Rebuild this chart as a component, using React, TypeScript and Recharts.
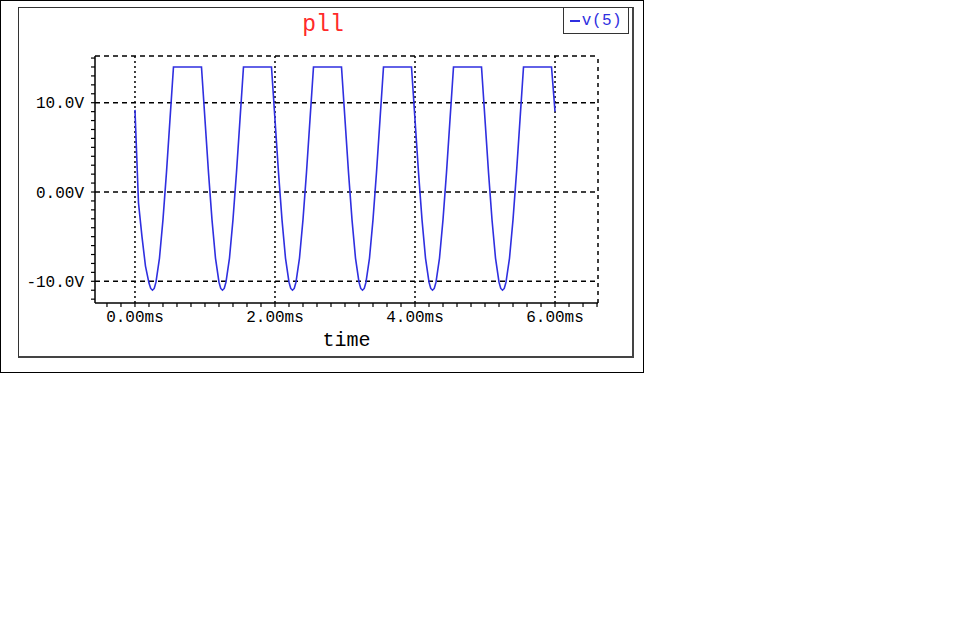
import { LineChart, Line, XAxis, YAxis, ReferenceLine, Legend } from "recharts";

// PSpice-style transient plot: v(5) of "pll"
const timeMs = [
  0, 0.05, 0.1, 0.15, 0.2, 0.225, 0.25, 0.275, 0.3, 0.35, 0.4, 0.45, 0.5, 0.55, 0.95,
  1.0, 1.05, 1.1, 1.15, 1.2, 1.225, 1.25, 1.275, 1.3, 1.35, 1.4, 1.45, 1.5, 1.55, 1.95,
  2.0, 2.05, 2.1, 2.15, 2.2, 2.225, 2.25, 2.275, 2.3, 2.35, 2.4, 2.45, 2.5, 2.55, 2.95,
  3.0, 3.05, 3.1, 3.15, 3.2, 3.225, 3.25, 3.275, 3.3, 3.35, 3.4, 3.45, 3.5, 3.55, 3.95,
  4.0, 4.05, 4.1, 4.15, 4.2, 4.225, 4.25, 4.275, 4.3, 4.35, 4.4, 4.45, 4.5, 4.55, 4.95,
  5.0, 5.05, 5.1, 5.15, 5.2, 5.225, 5.25, 5.275, 5.3, 5.35, 5.4, 5.45, 5.5, 5.55, 5.95,
  6.0,
];
const v5 = [
  9.2, -1.2, -5.0, -8.3, -10.2, -10.8, -11.0, -10.8, -10.1, -7.4, -3.1, 2.2, 8.1, 14.0, 14.0,
  8.1, 2.2, -3.1, -7.4, -10.1, -10.8, -11.0, -10.8, -10.1, -7.4, -3.1, 2.2, 8.1, 14.0, 14.0,
  8.1, 2.2, -3.1, -7.4, -10.1, -10.8, -11.0, -10.8, -10.1, -7.4, -3.1, 2.2, 8.1, 14.0, 14.0,
  8.1, 2.2, -3.1, -7.4, -10.1, -10.8, -11.0, -10.8, -10.1, -7.4, -3.1, 2.2, 8.1, 14.0, 14.0,
  8.1, 2.2, -3.1, -7.4, -10.1, -10.8, -11.0, -10.8, -10.1, -7.4, -3.1, 2.2, 8.1, 14.0, 14.0,
  8.1, 2.2, -3.1, -7.4, -10.1, -10.8, -11.0, -10.8, -10.1, -7.4, -3.1, 2.2, 8.1, 14.0, 14.0,
  9.0,
];

const xTicks = [
  -0.4, -0.2, 0, 0.2, 0.4, 0.6, 0.8, 1, 1.2, 1.4, 1.6, 1.8, 2, 2.2, 2.4, 2.6, 2.8,
  3, 3.2, 3.4, 3.6, 3.8, 4, 4.2, 4.4, 4.6, 4.8, 5, 5.2, 5.4, 5.6, 5.8, 6, 6.2, 6.4, 6.6,
];
const xLabelled = [0, 2, 4, 6];
const yTicks = [-12, -11, -10, -9, -8, -7, -6, -5, -4, -3, -2, -1, 0, 1, 2, 3, 4, 5, 6, 7, 8, 9, 10, 11, 12, 13, 14, 15];
const yLabelled = [-10, 0, 10];
const yLabelText: Record<string, string> = { "-10": "-10.0V", "0": "0.00V", "10": "10.0V" };

const X_DOMAIN: [number, number] = [-0.571, 6.614];
const Y_DOMAIN: [number, number] = [-12.43, 15.23];

const data = timeMs.map((t, i) => ({ t, v: v5[i] }));

const FONT = "'Liberation Mono', 'Courier New', monospace";
const BLUE = "#2f2fe0";

function XTick({ x, y, payload }: any) {
  if (!xLabelled.some((v) => Math.abs(v - payload.value) < 1e-6)) return <g />;
  return (
    <text x={x} y={y} dy="0.71em" textAnchor="middle" fontFamily={FONT} fontSize={16} fill="#000">
      {payload.value.toFixed(2)}ms
    </text>
  );
}

function YTick({ x, y, payload }: any) {
  if (!yLabelled.includes(payload.value)) return <g />;
  return (
    <text x={x} y={y} dy="0.35em" textAnchor="end" fontFamily={FONT} fontSize={16} fill="#000">
      {yLabelText[String(payload.value)]}
    </text>
  );
}

function LegendBox() {
  return (
    <div
      style={{
        border: "1px solid #333",
        background: "#fff",
        width: 64,
        height: 25,
        display: "flex",
        alignItems: "center",
        justifyContent: "center",
        fontFamily: FONT,
        fontSize: 16,
        color: BLUE,
      }}
    >
      <svg width={11} height={10} style={{ marginRight: 1 }}>
        <line x1={0} y1={5} x2={10} y2={5} stroke={BLUE} strokeWidth={2} />
      </svg>
      <span style={{ letterSpacing: 0.5 }}>v(5)</span>
    </div>
  );
}

export default function App() {
  return (
    <div style={{ position: "absolute", left: 0, top: 0, width: 644, height: 373, background: "#fff" }}>
      <LineChart
        width={643}
        height={372}
        data={data}
        margin={{ top: 56, right: 45, left: 35, bottom: 19 }}
      >
        <XAxis
          dataKey="t"
          type="number"
          domain={X_DOMAIN}
          allowDataOverflow
          ticks={xTicks}
          interval={0}
          tick={<XTick />}
          tickSize={4}
          tickMargin={4}
          height={50}
          axisLine={{ stroke: "#000", strokeWidth: 1.5 }}
          tickLine={{ stroke: "#000", strokeWidth: 1.2 }}
          label={{ value: "time", position: "insideBottom", offset: 7, fontFamily: FONT, fontSize: 20, fill: "#000" }}
        />
        <YAxis
          type="number"
          domain={Y_DOMAIN}
          allowDataOverflow
          ticks={yTicks}
          interval={0}
          tick={<YTick />}
          tickSize={4}
          tickMargin={7}
          width={60}
          axisLine={{ stroke: "#000", strokeWidth: 1.5 }}
          tickLine={{ stroke: "#000", strokeWidth: 1.2 }}
        />
        {yLabelled.map((v) => (
          <ReferenceLine key={"h" + v} y={v} stroke="#000" strokeWidth={1.5} strokeDasharray="5 4" />
        ))}
        <ReferenceLine y={Y_DOMAIN[1]} stroke="#000" strokeWidth={1.5} strokeDasharray="5 4" />
        {xLabelled.map((v) => (
          <ReferenceLine key={"v" + v} x={v} stroke="#000" strokeWidth={1.5} strokeDasharray="2 3" />
        ))}
        <ReferenceLine x={X_DOMAIN[1]} stroke="#000" strokeWidth={1.5} strokeDasharray="4 4" />
        <Legend
          layout="horizontal"
          verticalAlign="middle"
          align="center"
          content={<LegendBox />}
          wrapperStyle={{ left: 563, top: 7, width: "auto", height: "auto" }}
        />
        <Line
          type="linear"
          dataKey="v"
          name="v(5)"
          stroke={BLUE}
          strokeWidth={1.6}
          dot={false}
          isAnimationActive={false}
        />
      </LineChart>
      <div
        style={{
          position: "absolute",
          left: 323,
          top: 14,
          transform: "translateX(-50%)",
          fontFamily: FONT,
          fontSize: 23,
          lineHeight: "22px",
          color: "#ff2a2a",
        }}
      >
        pll
      </div>
      <div
        style={{
          position: "absolute",
          left: 18,
          top: 7,
          width: 616,
          height: 351,
          boxSizing: "border-box",
          border: "1px solid #333",
          borderRight: "2px solid #444",
          borderBottom: "2px solid #444",
          pointerEvents: "none",
        }}
      />
      <div
        style={{
          position: "absolute",
          left: 0,
          top: 0,
          width: 644,
          height: 373,
          boxSizing: "border-box",
          border: "1px solid #000",
          pointerEvents: "none",
        }}
      />
    </div>
  );
}
